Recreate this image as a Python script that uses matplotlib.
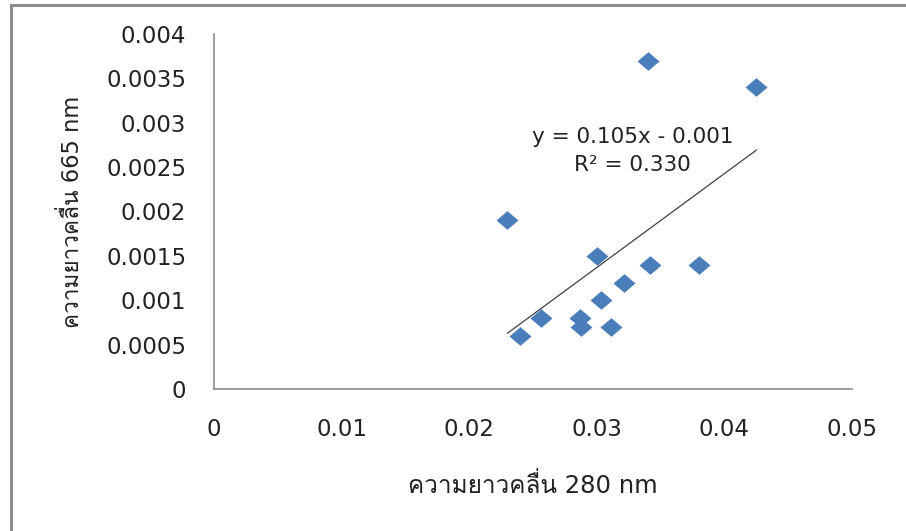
import numpy as np
import matplotlib
matplotlib.use("Agg")
import matplotlib.pyplot as plt
from matplotlib import font_manager
from matplotlib.ft2font import FT2Font
from matplotlib.lines import Line2D

# ค่าที่อ่านจากกราฟ
abs_280 = [0.034, 0.0425, 0.023, 0.030, 0.0342, 0.038, 0.0321,
           0.0303, 0.0256, 0.0287, 0.0288, 0.0311, 0.024]
abs_665 = [0.0037, 0.0034, 0.0019, 0.0015, 0.0014, 0.0014, 0.0012,
           0.0010, 0.0008, 0.0008, 0.0007, 0.0007, 0.0006]

x_ticks = [0, 0.01, 0.02, 0.03, 0.04, 0.05]
y_ticks = [0, 0.0005, 0.001, 0.0015, 0.002, 0.0025, 0.003, 0.0035, 0.004]
y_tick_labels = ["0", "0.0005", "0.001", "0.0015", "0.002",
                 "0.0025", "0.003", "0.0035", "0.004"]
x_label = "ความยาวคลื่น 280 nm"
y_label = "ความยาวคลื่น 665 nm"
eq_text = "y = 0.105x - 0.001\nR² = 0.330"


def find_thai_font():
    # หาฟอนต์ที่มีอักษรไทย
    for f in font_manager.fontManager.ttflist:
        try:
            if 0x0E04 in FT2Font(f.fname).get_charmap():
                return f.name
        except Exception:
            pass
    return None


thai = find_thai_font()
families = ["DejaVu Sans"] + ([thai] if thai else [])
plt.rcParams["font.family"] = families

fig = plt.figure(figsize=(9.06, 5.31), dpi=100)
ax = fig.add_axes([214 / 906, 1 - 389 / 531, 638 / 906, 355 / 531])

# กรอบรูปด้านบนและซ้าย
fig.add_artist(Line2D([11 / 906, 1], [1 - 5 / 531, 1 - 5 / 531],
                      color="#8c8c8c", lw=2.2))
fig.add_artist(Line2D([11 / 906, 11 / 906], [0, 1 - 5 / 531],
                      color="#8c8c8c", lw=2.2))

diamond = [(-1, 0), (0, 0.85), (1, 0), (0, -0.85), (-1, 0)]
ax.scatter(abs_280, abs_665, marker=diamond, s=250, color="#4a7ebb",
           linewidths=0, zorder=3)

# เส้นแนวโน้ม
coef = np.polyfit(abs_280, abs_665, 1)
xs = np.array([min(abs_280), max(abs_280)])
ax.plot(xs, np.polyval(coef, xs), color="#404040", lw=0.9, zorder=2)

ax.text(0.0328, 0.00268, eq_text, ha="center", va="center", fontsize=15.5,
        linespacing=1.5, color="#222222")

ax.set_xlim(0, 0.05)
ax.set_ylim(0, 0.004)
ax.set_xticks(x_ticks)
ax.set_yticks(y_ticks)
ax.set_xticklabels([f"{v:g}" for v in x_ticks])
ax.set_yticklabels(y_tick_labels)
ax.tick_params(length=0, labelsize=16.5, colors="#222222")
ax.tick_params(axis="x", pad=21)
ax.tick_params(axis="y", pad=20)

for side in ["top", "right"]:
    ax.spines[side].set_visible(False)
for side in ["left", "bottom"]:
    ax.spines[side].set_color("#8c8c8c")
    ax.spines[side].set_linewidth(1.2)

ax.set_xlabel(x_label, fontsize=17.5, labelpad=23, color="#222222")
ax.set_ylabel(y_label, fontsize=16.3, labelpad=16, color="#222222")

fig.savefig("out.png", dpi=100)
